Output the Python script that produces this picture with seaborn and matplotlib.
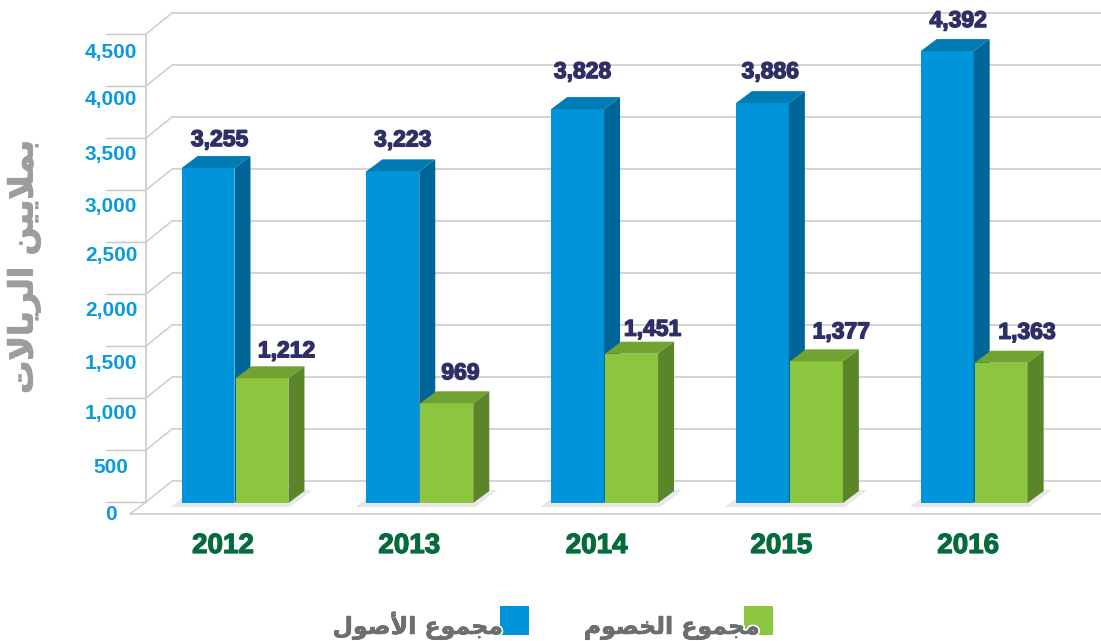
import matplotlib
matplotlib.use("Agg")
import matplotlib.pyplot as plt
import matplotlib.patheffects as pe
from matplotlib.patches import Polygon, Rectangle
from matplotlib.lines import Line2D
from matplotlib.transforms import ScaledTranslation
import pandas as pd
import seaborn as sns

# ---------- data ----------
years = ["2012", "2013", "2014", "2015", "2016"]
assets = [3255, 3223, 3828, 3886, 4392]
liabilities = [1212, 969, 1451, 1377, 1363]
y_ticks = [0, 500, 1000, 1500, 2000, 2500, 3000, 3500, 4000, 4500]
assets_name = "مجموع الأصول"
liabilities_name = "مجموع الخصوم"
y_title = "بملايين الريالات"

# ---------- Arabic shaping (presentation forms in visual order) ----------
FORMS = {
    "م": (0xFEE1, 0xFEE2, 0xFEE3, 0xFEE4), "ج": (0xFE9D, 0xFE9E, 0xFE9F, 0xFEA0),
    "ع": (0xFEC9, 0xFECA, 0xFECB, 0xFECC), "ل": (0xFEDD, 0xFEDE, 0xFEDF, 0xFEE0),
    "ص": (0xFEB9, 0xFEBA, 0xFEBB, 0xFEBC), "خ": (0xFEA5, 0xFEA6, 0xFEA7, 0xFEA8),
    "ب": (0xFE8F, 0xFE90, 0xFE91, 0xFE92), "ي": (0xFEF1, 0xFEF2, 0xFEF3, 0xFEF4),
    "ن": (0xFEE5, 0xFEE6, 0xFEE7, 0xFEE8), "ت": (0xFE95, 0xFE96, 0xFE97, 0xFE98),
    "و": (0xFEED, 0xFEEE), "ا": (0xFE8D, 0xFE8E), "أ": (0xFE83, 0xFE84), "ر": (0xFEAD, 0xFEAE),
}
LAM_ALEF = {"ا": (0xFEFB, 0xFEFC), "أ": (0xFEF7, 0xFEF8)}


def shape(text):
    out = []
    prev_joins = False
    i = 0
    while i < len(text):
        c = text[i]
        if c not in FORMS:
            out.append(c)
            prev_joins = False
            i += 1
            continue
        if c == "ل" and i + 1 < len(text) and text[i + 1] in LAM_ALEF:
            out.append(chr(LAM_ALEF[text[i + 1]][1 if prev_joins else 0]))
            prev_joins = False
            i += 2
            continue
        f = FORMS[c]
        next_ok = i + 1 < len(text) and text[i + 1] in FORMS
        if len(f) == 4 and next_ok:
            out.append(chr(f[3] if prev_joins else f[2]))
            prev_joins = True
        else:
            out.append(chr(f[1] if prev_joins else f[0]))
            prev_joins = False
        i += 1
    return "".join(reversed(out))


# ---------- styling ----------
W, H = 1101, 641
LEFT, BASE = 146, 503          # pixel position of axes left edge and bar baseline
PX_PER_UNIT = 0.1029
PX_PER_CAT = 184.8
CAT0_PX = 235
DEPTH_X, DEPTH_Y = 16, 12
GRID = "#c9c9c9"
FRONT = {"a": "#0095da", "l": "#8cc63f"}
TOP = {"a": "#007bb3", "l": "#72a332"}
SIDE = {"a": "#006699", "l": "#5a8528"}
label_dx = [11.5, 24.5, 10, 13.5, 5, 21, 8, 25, 11, 26]
label_dy = [10, 9, 13, 12, 19, 6, 13, 11, 12, 12]
ytick_shift = [9, 13.5, 11, 13, 11, 8, 10, 10, 6.6, 11]
xtick_shift = [-12, -10.5, -8, -8, -6]

sns.set_theme(style="white")
plt.rcParams["font.family"] = ["Liberation Sans", "DejaVu Sans"]

fig = plt.figure(figsize=(W / 100, H / 100), dpi=100, facecolor="white")
ax = fig.add_axes([LEFT / W, (H - BASE) / H, (W - LEFT) / W, BASE / H])

df = pd.DataFrame({
    "year": years * 2,
    "value": assets + liabilities,
    "series": ["a"] * len(years) + ["l"] * len(years),
})
sns.barplot(data=df, x="year", y="value", hue="series", order=years, hue_order=["a", "l"],
            palette=FRONT, saturation=1, width=2 * 54 / PX_PER_CAT, gap=0.02, legend=False,
            ax=ax, linewidth=0)

ax.set_xlim((LEFT - CAT0_PX) / PX_PER_CAT, (W - CAT0_PX) / PX_PER_CAT)
ax.set_ylim(0, BASE / PX_PER_UNIT)
ax.set_xlabel("")
ax.set_ylabel("")
ax.patch.set_alpha(0)
for s in ax.spines.values():
    s.set_visible(False)

dx = DEPTH_X / PX_PER_CAT
dy = DEPTH_Y / PX_PER_UNIT


def xd(px):
    return px / PX_PER_CAT


def yd(px):
    return px / PX_PER_UNIT


# ---------- wall / floor grid ----------
WALL_SCALE = 0.104 / PX_PER_UNIT
x_wall = xd(LEFT - CAT0_PX)
x_back = xd(172 - CAT0_PX)
x_stub = xd(106 - CAT0_PX)
x_right = xd(W - CAT0_PX)
for v in y_ticks:
    wall = v * WALL_SCALE + yd(1)
    back = wall + yd(21)
    ax.add_line(Line2D([x_stub, x_wall], [wall, wall], color="#c6c6c6", lw=1, zorder=1, clip_on=False))
    ax.add_line(Line2D([x_wall, x_back], [wall, back], color=GRID, lw=1, zorder=1, clip_on=False))
    ax.add_line(Line2D([x_back, x_right], [back, back], color=GRID, lw=1.1, zorder=1, clip_on=False))
top_wall = y_ticks[-1] * WALL_SCALE + yd(1)
ax.add_line(Line2D([x_wall, x_wall], [yd(1), top_wall], color="#cfcfcf", lw=1.3, zorder=1, clip_on=False))
ax.add_line(Line2D([xd(130 - CAT0_PX), x_wall], [yd(-11), yd(1)], color=GRID, lw=1, zorder=1, clip_on=False))
ax.add_line(Line2D([xd(130 - CAT0_PX), x_right], [yd(-11), yd(-11)], color=GRID, lw=1.1, zorder=1, clip_on=False))

# ---------- 3D extrusion, derived from the bars ----------
bars = list(ax.patches)
for b in bars:
    x0, w, h = b.get_x(), b.get_width(), b.get_height()
    key = "a" if x0 + w / 2 < round(x0 + w / 2) else "l"
    z = 3 if key == "a" else 4
    b.set_zorder(z)
    ax.add_patch(Polygon([(x0, h), (x0 + w, h), (x0 + w + dx, h + dy), (x0 + dx, h + dy)],
                         closed=True, fc=TOP[key], ec="none", zorder=z))
    ax.add_patch(Polygon([(x0 + w, 0), (x0 + w + dx, dy), (x0 + w + dx, h + dy), (x0 + w, h)],
                         closed=True, fc=SIDE[key], ec="none", zorder=z))
    if key == "a":
        # floor shadow beneath the pair of bars
        l = x0 + xd(-11)
        r = x0 + xd(109)
        ax.add_patch(Polygon([(l, yd(-4)), (r, yd(-4)), (r + xd(22), yd(13)), (l + xd(22), yd(13))],
                             closed=True, fc="#e8e8e8", ec="none", zorder=2, clip_on=False))

# ---------- value labels ----------
ordered = sorted(bars, key=lambda p: p.get_x())
for i, b in enumerate(ordered):
    cx = b.get_x() + b.get_width() / 2
    ax.annotate(f"{int(b.get_height()):,}", (cx, b.get_height() + dy),
                xytext=(label_dx[i], label_dy[i]), textcoords="offset pixels",
                ha="center", va="baseline", fontsize=16.5, fontweight="bold",
                color="#2e2f66", zorder=6, annotation_clip=False,
                path_effects=[pe.withStroke(linewidth=1.0, foreground="#2e2f66")])

# ---------- axes ticks ----------
ax.set_yticks(y_ticks)
ax.set_yticklabels([f"{v:,}" for v in y_ticks])
ax.tick_params(axis="y", length=0, pad=35 * 0.72, labelsize=15, labelcolor="#0a9bdc")
for lab, s in zip(ax.get_yticklabels(), ytick_shift):
    lab.set_fontweight("bold")
    lab.set_ha("center")
    lab.set_transform(lab.get_transform() + ScaledTranslation(0, -s / 100, fig.dpi_scale_trans))
ax.tick_params(axis="x", length=0, pad=30 * 0.72, labelsize=20, labelcolor="#056a3c")
for lab, s in zip(ax.get_xticklabels(), xtick_shift):
    lab.set_fontweight("bold")
    lab.set_transform(lab.get_transform() + ScaledTranslation(s / 100, 0, fig.dpi_scale_trans))
    lab.set_path_effects([pe.withStroke(linewidth=0.9, foreground="#056a3c")])

# ---------- y title ----------
ax.set_ylabel(shape(y_title), rotation=90, fontsize=23.8, fontweight="bold", color="#9d9d9f",
              family=["DejaVu Sans"])
ax.yaxis.set_label_coords((24 - LEFT) / (W - LEFT), (BASE - 267) / BASE)
ax.yaxis.label.set_va("center")
ax.yaxis.label.set_path_effects([pe.withStroke(linewidth=0.8, foreground="#9d9d9f")])

# ---------- legend: each label overlaps its swatch, white halo on top ----------
entries = [
    (assets_name, FRONT["a"], 500, 503),
    (liabilities_name, FRONT["l"], 744, 760),
]
for name, colour, sq_left, text_right in entries:
    fig.add_artist(Rectangle((sq_left / W, (H - 635) / H), 29 / W, 29 / H, fc=colour, ec="none",
                             transform=fig.transFigure, zorder=5))
    fig.text(text_right / W, (H - 634) / H, shape(name), ha="right", va="baseline", fontsize=17,
             fontweight="bold", color="#6d6e71", family=["DejaVu Sans"], zorder=6,
             path_effects=[pe.withStroke(linewidth=3, foreground="white"),
                           pe.withStroke(linewidth=0.4, foreground="#6d6e71")])

fig.savefig("out.png", dpi=100, facecolor="white")
